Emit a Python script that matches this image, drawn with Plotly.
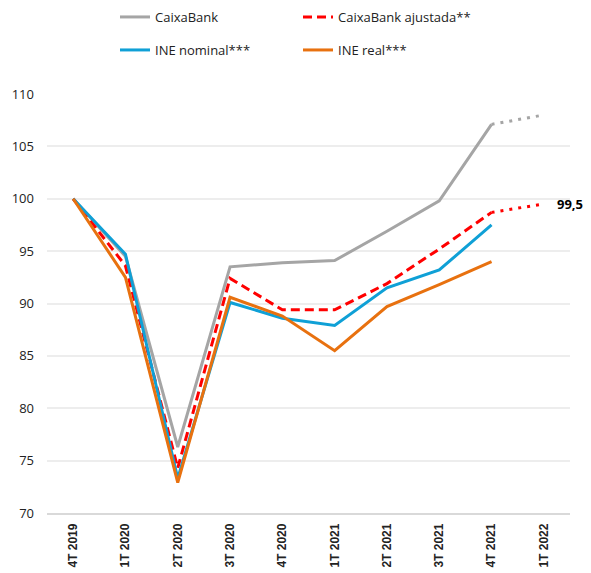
import plotly.graph_objects as go

categories = ["4T 2019", "1T 2020", "2T 2020", "3T 2020", "4T 2020",
              "1T 2021", "2T 2021", "3T 2021", "4T 2021", "1T 2022"]

caixabank = [100, 94.5, 76.3, 93.5, 93.9, 94.1, 96.9, 99.8, 107.1]
caixabank_proj = [107.1, 108.0]
caixabank_aj = [100, 93.6, 74.3, 92.4, 89.4, 89.4, 91.9, 95.2, 98.7]
caixabank_aj_proj = [98.7, 99.5]
ine_nominal = [100, 94.7, 73.3, 90.1, 88.6, 87.9, 91.5, 93.2, 97.5]
ine_real = [100, 92.5, 72.9, 90.6, 88.8, 85.5, 89.7, 91.8, 94.0]

label_value = 99.5
label_text = "99,5"

GRAY = "#A5A5A5"
RED = "#FF0000"
BLUE = "#0FA0D6"
ORANGE = "#E8710F"
LW = 3

W, H = 591, 573
ML, MR, MT, MB = 47, 21, 94, 60

fig = go.Figure()
fig.add_trace(go.Scatter(x=categories[:9], y=caixabank, mode="lines",
                         name="CaixaBank", legend="legend",
                         line=dict(color=GRAY, width=LW)))
fig.add_trace(go.Scatter(x=categories[:9], y=caixabank_aj, mode="lines",
                         name="CaixaBank ajustada**", legend="legend",
                         line=dict(color=RED, width=LW, dash="9px,5px")))
fig.add_trace(go.Scatter(x=categories[:9], y=ine_nominal, mode="lines",
                         name="INE nominal***", legend="legend2",
                         line=dict(color=BLUE, width=LW)))
fig.add_trace(go.Scatter(x=categories[:9], y=ine_real, mode="lines",
                         name="INE real***", legend="legend2",
                         line=dict(color=ORANGE, width=LW)))
fig.add_trace(go.Scatter(x=categories[8:10], y=caixabank_proj, mode="lines",
                         showlegend=False, line=dict(color=GRAY, width=LW, dash="3px,6px")))
fig.add_trace(go.Scatter(x=categories[8:10], y=caixabank_aj_proj, mode="lines",
                         showlegend=False, line=dict(color=RED, width=LW, dash="3px,6px")))

fig.add_annotation(x=categories[9], y=label_value, text="<b>" + label_text + "</b>",
                   showarrow=False, xanchor="left", yanchor="middle", xshift=11,
                   font=dict(size=13, color="#000000"))

leg_common = dict(orientation="h", xref="container", yref="container",
                  xanchor="left", yanchor="middle",
                  font=dict(size=13, color="#222222"), entrywidth=138,
                  bgcolor="rgba(0,0,0,0)")

fig.update_layout(
    width=W, height=H,
    margin=dict(l=ML, r=MR, t=MT, b=MB, autoexpand=False),
    paper_bgcolor="white", plot_bgcolor="white",
    font=dict(family="Open Sans, Noto Sans, sans-serif", color="#222222", size=13),
    legend=dict(x=115 / W, y=1 - 17 / H, **leg_common),
    legend2=dict(x=115 / W, y=1 - 50 / H, **leg_common),
    showlegend=True,
)

fig.update_xaxes(type="category", categoryorder="array", categoryarray=categories,
                 range=[-0.5, 9.5], tickangle=-90, showgrid=False, automargin=False,
                 tickfont=dict(size=12, color="#222222", family="Liberation Sans, Arial, sans-serif",
                               weight="bold"),
                 ticks="", ticklabelstandoff=4,
                 showline=True, linecolor="#D9D9D9", linewidth=1.5)
fig.update_yaxes(range=[70, 110], dtick=5, showgrid=True, gridcolor="#EDEDED",
                 gridwidth=1.5, zeroline=False, ticks="", ticklabelstandoff=12,
                 automargin=False, tickfont=dict(size=13, color="#222222"))

fig.write_html("out.html", config={"displayModeBar": False},
               post_script="document.body.style.margin='0';document.body.style.overflow='hidden';")
